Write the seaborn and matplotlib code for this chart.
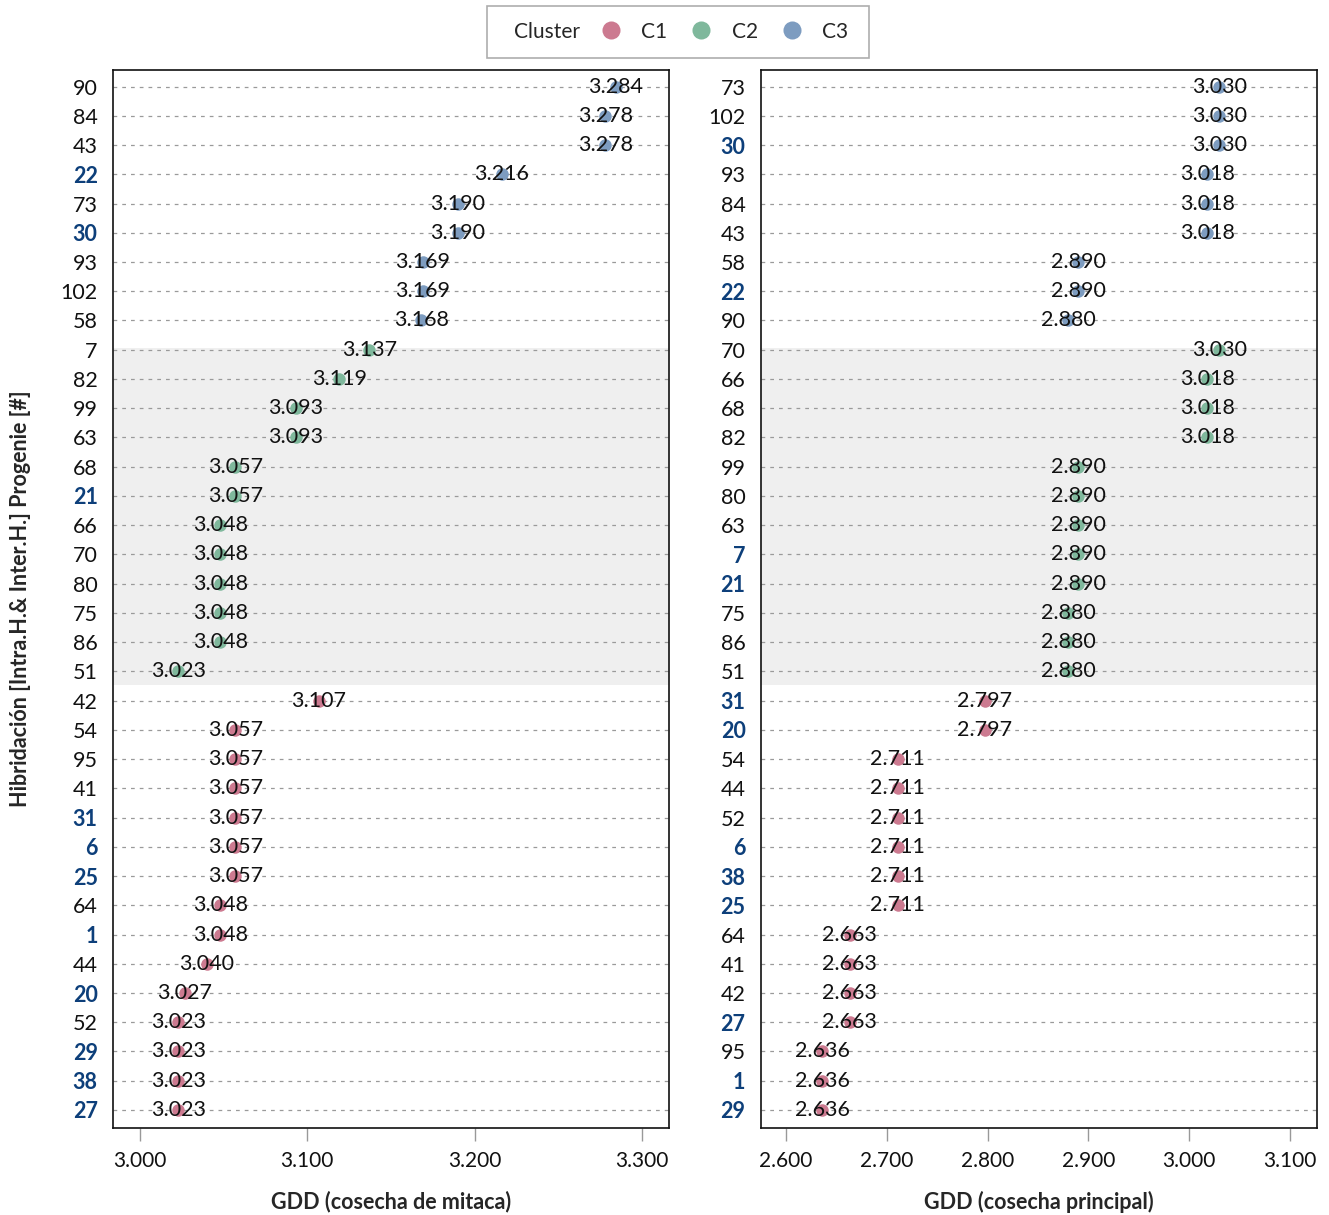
import matplotlib
matplotlib.use("Agg")
import matplotlib.pyplot as plt
from matplotlib.lines import Line2D
from matplotlib.ticker import FuncFormatter
from matplotlib.offsetbox import HPacker, DrawingArea
import seaborn as sns
import pandas as pd

# --- GDD, mitaca harvest ---
mit_ids = ["90", "84", "43", "22", "73", "30", "93", "102", "58",
           "7", "82", "99", "63", "68", "21", "66", "70", "80", "75", "86", "51",
           "42", "54", "95", "41", "31", "6", "25", "64", "1", "44", "20", "52",
           "29", "38", "27"]
mit_gdd = [3284, 3278, 3278, 3216, 3190, 3190, 3169, 3169, 3168,
           3137, 3119, 3093, 3093, 3057, 3057, 3048, 3048, 3048, 3048, 3048, 3023,
           3107, 3057, 3057, 3057, 3057, 3057, 3057, 3048, 3048, 3040, 3027, 3023,
           3023, 3023, 3023]
mit_cluster = ["C3"] * 9 + ["C2"] * 12 + ["C1"] * 15
mit_highlight = ["22", "30", "21", "31", "6", "25", "1", "20", "29", "38", "27"]

# --- GDD, main harvest ---
pri_ids = ["73", "102", "30", "93", "84", "43", "58", "22", "90",
           "70", "66", "68", "82", "99", "80", "63", "7", "21", "75", "86", "51",
           "31", "20", "54", "44", "52", "6", "38", "25", "64", "41", "42", "27",
           "95", "1", "29"]
pri_gdd = [3030, 3030, 3030, 3018, 3018, 3018, 2890, 2890, 2880,
           3030, 3018, 3018, 3018, 2890, 2890, 2890, 2890, 2890, 2880, 2880, 2880,
           2797, 2797, 2711, 2711, 2711, 2711, 2711, 2711, 2663, 2663, 2663, 2663,
           2636, 2636, 2636]
pri_cluster = ["C3"] * 9 + ["C2"] * 12 + ["C1"] * 15
pri_highlight = ["30", "22", "7", "21", "31", "20", "6", "38", "25", "27", "1", "29"]

clusters = ["C1", "C2", "C3"]
palette = {"C1": "#cc7a90", "C2": "#7fb89c", "C3": "#7d9cc0"}
highlight_color = "#0d3f7a"

sns.set_theme(style="white")
plt.rcParams["font.family"] = ["Lato", "DejaVu Sans"]

fig, axes = plt.subplots(1, 2, figsize=(13.29, 12.15), dpi=100)
fig.subplots_adjust(left=0.085, right=0.991, top=0.942, bottom=0.072, wspace=0.165)

thousands = FuncFormatter(lambda v, _: f"{v/1000:.3f}")


def panel(ax, ids, gdd, cl, highlight, xlim, xticks, xlabel):
    df = pd.DataFrame({"id": ids, "gdd": gdd, "cluster": cl})
    n = len(ids)
    ax.axhspan(8.95, 20.45, color="#efefef", zorder=0, lw=0)
    for i in range(n):
        ax.axhline(i, color="#9a9a9a", lw=0.9, ls=(0, (3, 4)), zorder=1)
    sns.stripplot(data=df, x="gdd", y="id", hue="cluster", hue_order=clusters,
                  palette=palette, order=ids, jitter=False, size=9,
                  linewidth=0, ax=ax, legend=False, zorder=3)
    for i, row in df.iterrows():
        ax.text(row["gdd"], i, f"{row['gdd']/1000:.3f}", ha="center", va="center",
                fontsize=15.5, color="#111111", zorder=4)
    ax.set_xlim(*xlim)
    ax.set_ylim(n - 0.4, -0.55)
    ax.set_xticks(xticks)
    ax.xaxis.set_major_formatter(thousands)
    ax.set_xlabel(xlabel, fontsize=15.5, fontweight="bold", labelpad=14)
    ax.set_ylabel("")
    ax.tick_params(axis="x", bottom=True, length=9, width=1, color="#999999",
                   labelsize=15, pad=8)
    ax.tick_params(axis="y", left=False, labelsize=15.5, pad=5)
    for lab in ax.get_yticklabels():
        if lab.get_text() in highlight:
            lab.set_color(highlight_color)
            lab.set_fontweight("bold")
        else:
            lab.set_color("#111111")
    for lab in ax.get_xticklabels():
        lab.set_color("#111111")
    for sp in ax.spines.values():
        sp.set_visible(True)
        sp.set_color("#111111")
        sp.set_linewidth(1.2)
    ax.grid(False)


panel(axes[0], mit_ids, mit_gdd, mit_cluster, mit_highlight,
      (2984, 3316), [3000, 3100, 3200, 3300], "GDD (cosecha de mitaca)")
panel(axes[1], pri_ids, pri_gdd, pri_cluster, pri_highlight,
      (2575, 3127), [2600, 2700, 2800, 2900, 3000, 3100], "GDD (cosecha principal)")

axes[0].set_ylabel("Hibridación [Intra.H.& Inter.H.] Progenie [#]",
                   fontsize=15.5, fontweight="bold", labelpad=21)

handles = [Line2D([], [], ls="none", marker="o", markersize=13,
                  markerfacecolor=palette[c], markeredgewidth=0, label=c)
           for c in clusters]
leg = fig.legend(handles=handles, loc="upper center", bbox_to_anchor=(0.51, 0.990),
                 ncol=3, frameon=True, fontsize=15, handletextpad=0.95,
                 columnspacing=1.13, borderpad=0.46, handlelength=1.0,
                 borderaxespad=0, title="Cluster", title_fontsize=15)
# put the legend title on the same row as the entries
box = leg._legend_box
row = HPacker(pad=box.pad, sep=0, align="center",
              children=[DrawingArea(8, 1), leg._legend_title_box,
                        DrawingArea(15, 1), leg._legend_handle_box,
                        DrawingArea(3.6, 1)])
row.set_figure(fig)
row.axes = leg.axes
row.set_offset(leg._findoffset)
leg._legend_box = row
leg.get_frame().set_edgecolor("#999999")
leg.get_frame().set_linewidth(1.2)
leg.get_frame().set_boxstyle("square")

fig.savefig("out.png", dpi=100)
